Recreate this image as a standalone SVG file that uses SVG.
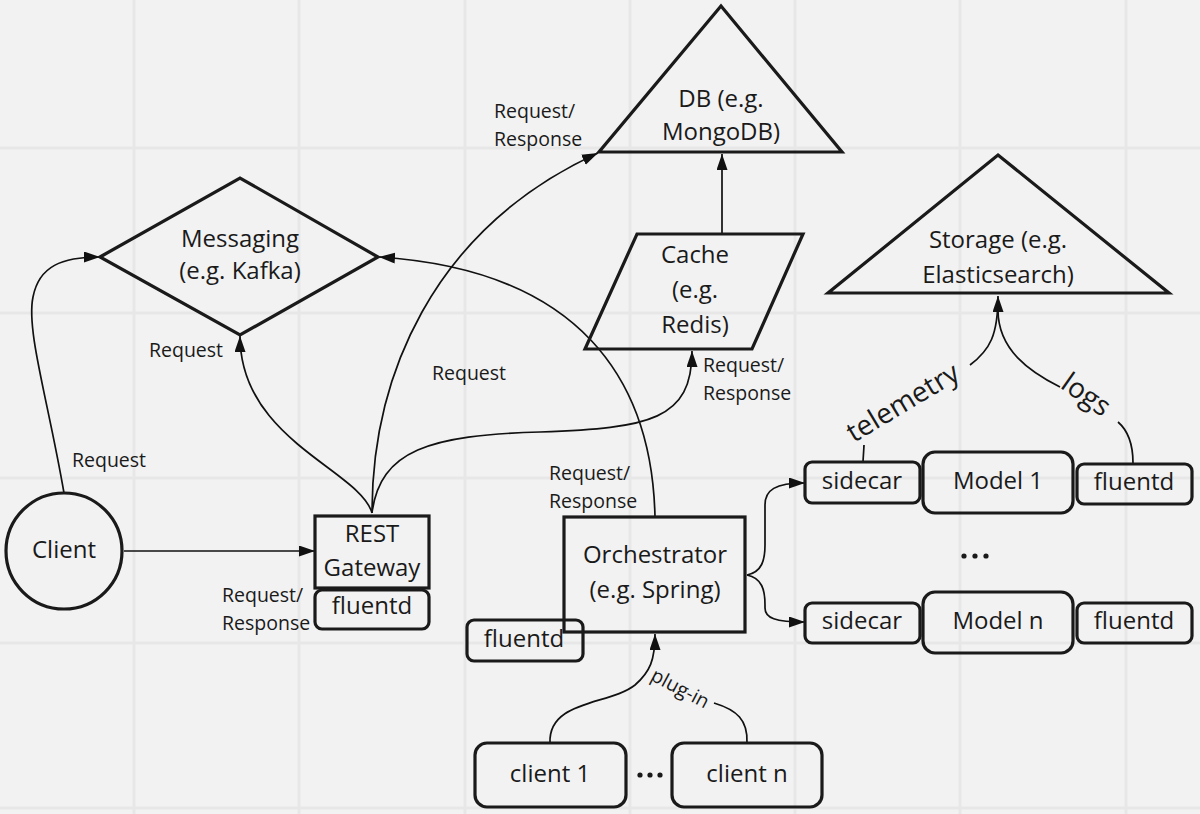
<svg xmlns="http://www.w3.org/2000/svg" width="1200" height="814" viewBox="0 0 1200 814">
<defs>
<marker id="arr" markerUnits="userSpaceOnUse" markerWidth="17" markerHeight="12" refX="16" refY="5.5" orient="auto">
<path d="M0,0 L16,5.5 L0,11 z" fill="#111"/>
</marker>
<style>
.bg{fill:#f2f2f2}
.grid line{stroke:#e7e7e7;stroke-width:3}
.shape{fill:none;stroke:#1a1a1a;stroke-width:3.2;stroke-linejoin:miter}
.rshape{fill:none;stroke:#1a1a1a;stroke-width:3.2}
.t{font-family:"Open Sans","Noto Sans",sans-serif;font-size:24px;fill:#1a1a1a;text-anchor:middle}
.lbl{font-family:"Open Sans","Noto Sans",sans-serif;font-size:19.5px;fill:#1a1a1a}
.big{font-family:"Open Sans","Noto Sans",sans-serif;font-size:28px;fill:#1a1a1a;text-anchor:middle}
.c{fill:none;stroke:#111;stroke-width:1.7}
.ca{fill:none;stroke:#111;stroke-width:1.7;marker-end:url(#arr)}
</style>
</defs>
<rect class="bg" x="0" y="0" width="1200" height="814"/>
<g class="grid">
<line x1="134" y1="0" x2="134" y2="814"/>
<line x1="299" y1="0" x2="299" y2="814"/>
<line x1="465" y1="0" x2="465" y2="814"/>
<line x1="630" y1="0" x2="630" y2="814"/>
<line x1="795" y1="0" x2="795" y2="814"/>
<line x1="960" y1="0" x2="960" y2="814"/>
<line x1="1126" y1="0" x2="1126" y2="814"/>
<line x1="0" y1="148" x2="1200" y2="148"/>
<line x1="0" y1="313" x2="1200" y2="313"/>
<line x1="0" y1="478" x2="1200" y2="478"/>
<line x1="0" y1="643" x2="1200" y2="643"/>
<line x1="0" y1="808" x2="1200" y2="808"/>
</g>

<g id="connectors">
<path class="ca" d="M64,493 C 48,400 26,330 33,297 C 39,266 62,257 100,257"/>
<path class="ca" d="M124,551 L315,551"/>
<path class="ca" d="M372,513 C 360,470 240,440 240,336"/>
<path class="ca" d="M372,513 C 372,380 430,230 598,153"/>
<path class="ca" d="M372,513 C 380,450 430,435 540,432 C 650,428 692,420 692,351"/>
<path class="ca" d="M655,517 C 652,380 580,270 379,257"/>
<path class="ca" d="M722,233 L722,154"/>
<path class="ca" d="M747,575 C 762,572 765,560 765,545 L765,505 C 765,490 775,483 805,483"/>
<path class="ca" d="M747,575 C 762,578 765,590 765,605 L765,608 C 765,618 775,622 805,622"/>
<path class="ca" d="M550,743 C 548,700 610,705 635,685 C 650,672 655,660 655,634"/>
<path class="c" d="M747,743 C 748,720 737,710 714,703"/>
<path class="c" d="M863,462 L864,445"/>
<path class="ca" d="M970,365 C 990,350 998,335 998,296"/>
<path class="c" d="M1133,463 C 1133,440 1125,428 1118,422"/>
<path class="c" d="M1060,387 C 1030,372 998,350 998,310"/>
<text class="lbl" x="72" y="467">Request</text>
<text class="lbl" x="149" y="357">Request</text>
<text class="lbl" x="432" y="380">Request</text>
<text class="lbl" x="494" y="118">Request/</text>
<text class="lbl" x="494" y="146">Response</text>
<text class="lbl" x="703" y="372">Request/</text>
<text class="lbl" x="703" y="400">Response</text>
<text class="lbl" x="549" y="480">Request/</text>
<text class="lbl" x="549" y="508">Response</text>
<text class="lbl" x="222" y="602">Request/</text>
<text class="lbl" x="222" y="630">Response</text>
<text class="lbl" text-anchor="middle" transform="translate(680,689) rotate(28)" y="6">plug-in</text>
<text class="big" transform="translate(903,403) rotate(-31)" y="9">telemetry</text>
<text class="big" transform="translate(1086,395) rotate(35)" y="9">logs</text>
</g>

<g id="messaging">
<polygon class="shape" points="100,257 240,178 378,257 240,335"/>
<text class="t" x="240" y="247">Messaging</text>
<text class="t" x="240" y="279">(e.g. Kafka)</text>
</g>
<g id="db">
<polygon class="shape" points="721,6 842,152 599,152"/>
<text class="t" x="721" y="107">DB (e.g.</text>
<text class="t" x="721" y="140">MongoDB)</text>
</g>
<g id="cache">
<polygon class="shape" points="637,234 803,234 752,349 585,349"/>
<text class="t" x="695" y="263">Cache</text>
<text class="t" x="695" y="298">(e.g.</text>
<text class="t" x="695" y="333">Redis)</text>
</g>
<g id="storage">
<polygon class="shape" points="998,155 1169,293 828,293"/>
<text class="t" x="998" y="248">Storage (e.g.</text>
<text class="t" x="998" y="283">Elasticsearch)</text>
</g>
<g id="client">
<circle class="shape" cx="64" cy="551" r="58"/>
<text class="t" x="64" y="558">Client</text>
</g>
<g id="rest-gateway">
<rect class="shape" x="315" y="516" width="114" height="72"/>
<text class="t" x="372" y="542">REST</text>
<text class="t" x="372" y="576">Gateway</text>
</g>
<g id="rest-fluentd">
<rect class="rshape" x="315" y="590" width="114" height="39" rx="7"/>
<text class="t" x="372" y="614">fluentd</text>
</g>
<g id="orch-fluentd">
<rect class="rshape" x="467" y="620" width="116" height="41" rx="7"/>
<text class="t" x="524" y="647">fluentd</text>
</g>
<g id="orchestrator">
<rect class="shape" x="564" y="517" width="181" height="115"/>
<text class="t" x="655" y="563">Orchestrator</text>
<text class="t" x="655" y="598">(e.g. Spring)</text>
</g>
<g id="client1">
<rect class="rshape" x="475" y="743" width="151" height="64" rx="12"/>
<text class="t" x="550" y="782">client 1</text>
</g>
<g id="client-dots" fill="#1a1a1a">
<circle cx="640" cy="775" r="2.6"/><circle cx="650" cy="775" r="2.6"/><circle cx="660" cy="775" r="2.6"/>
</g>
<g id="clientn">
<rect class="rshape" x="672" y="743" width="150" height="64" rx="12"/>
<text class="t" x="747" y="782">client n</text>
</g>
<g id="sidecar1">
<rect class="rshape" x="805" y="462" width="115" height="41" rx="7"/>
<text class="t" x="862" y="489">sidecar</text>
</g>
<g id="model1">
<rect class="rshape" x="923" y="452" width="150" height="61" rx="12"/>
<text class="t" x="998" y="489">Model 1</text>
</g>
<g id="fluentd1">
<rect class="rshape" x="1077" y="464" width="115" height="40" rx="7"/>
<text class="t" x="1134" y="490">fluentd</text>
</g>
<g id="model-dots" fill="#1a1a1a">
<circle cx="964" cy="556" r="2.6"/><circle cx="975" cy="556" r="2.6"/><circle cx="986" cy="556" r="2.6"/>
</g>
<g id="sidecarn">
<rect class="rshape" x="805" y="603" width="115" height="40" rx="7"/>
<text class="t" x="862" y="629">sidecar</text>
</g>
<g id="modeln">
<rect class="rshape" x="923" y="592" width="150" height="61" rx="12"/>
<text class="t" x="998" y="629">Model n</text>
</g>
<g id="fluentdn">
<rect class="rshape" x="1077" y="603" width="115" height="40" rx="7"/>
<text class="t" x="1134" y="629">fluentd</text>
</g>
</svg>
